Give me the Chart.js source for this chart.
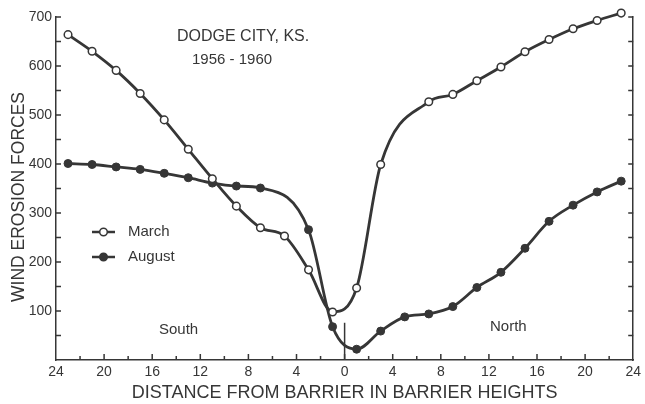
<!DOCTYPE html>
<html>
<head>
<meta charset="utf-8">
<script src="https://cdn.jsdelivr.net/npm/chart.js@4"></script>
<style>
  html, body { margin: 0; padding: 0; background: #fff; }
  #wrap { width: 645px; height: 404px; }
</style>
</head>
<body>
<div id="wrap"><canvas id="erosion-chart" width="645" height="404"></canvas></div>
<script>
// distance from barrier in barrier heights (negative = south side)
const distances = [-23, -21, -19, -17, -15, -13, -11, -9, -7, -5, -3, -1, 1, 3, 5, 7, 9, 11, 13, 15, 17, 19, 21, 23];
const march = [664, 630, 591, 544, 490, 430, 370, 314, 270, 253, 184, 98, 147, 399, null, 527, 542, 570, 598, 629, 654, 676, 693, 708];
const august = [401, 399, 394, 389, 381, 372, 361, 355, 351, null, 266, 68, 22, 59, 88, 94, 109, 148, 179, 228, 283, 316, 343, 365];
const barrier = [{x: 0, y: 0}, {x: 0, y: 76}];
const xTicks = [-24, -20, -16, -12, -8, -4, 0, 4, 8, 12, 16, 20, 24];
const yTicks = [100, 200, 300, 400, 500, 600, 700];

const ink = '#363636';
const fontFamily = '"Liberation Sans", Arial, sans-serif';

function toPoints(values) {
  return distances.map((d, i) => ({x: d, y: values[i]})).filter(p => p.y !== null);
}

// ticks pointing into the plot, legend and notes
const extras = {
  id: 'extras',
  afterDraw(chart) {
    const ctx = chart.ctx;
    const x = chart.scales.x;
    const y = chart.scales.y;
    const area = chart.chartArea;
    ctx.save();
    ctx.strokeStyle = ink;
    ctx.lineWidth = 1.5;
    ctx.beginPath();
    for (let v = -22; v <= 22; v += 2) {
      const px = x.getPixelForValue(v);
      const len = v % 4 === 0 ? 6 : 4;
      ctx.moveTo(px, area.bottom);
      ctx.lineTo(px, area.bottom - len);
    }
    for (let v = 50; v <= 700; v += 50) {
      const py = y.getPixelForValue(v);
      ctx.moveTo(area.left, py);
      ctx.lineTo(area.left + 5, py);
      ctx.moveTo(area.right, py);
      ctx.lineTo(area.right - 5, py);
    }
    ctx.stroke();

    // legend
    const items = [
      {label: 'March', fill: '#fff', y: 232},
      {label: 'August', fill: ink, y: 257}
    ];
    ctx.font = '15px ' + fontFamily;
    ctx.textBaseline = 'middle';
    ctx.textAlign = 'left';
    items.forEach(it => {
      ctx.lineWidth = 2.5;
      ctx.beginPath();
      ctx.moveTo(92, it.y);
      ctx.lineTo(115, it.y);
      ctx.stroke();
      ctx.beginPath();
      ctx.arc(103.5, it.y, 3.8, 0, Math.PI * 2);
      ctx.fillStyle = it.fill;
      ctx.fill();
      ctx.lineWidth = 1.5;
      ctx.stroke();
      ctx.fillStyle = ink;
      ctx.fillText(it.label, 128, it.y);
    });

    ctx.font = '16px ' + fontFamily;
    ctx.fillText('DODGE CITY, KS.', 177, 37);
    ctx.font = '15px ' + fontFamily;
    ctx.fillText('1956 - 1960', 192, 60);
    ctx.fillText('South', 159, 330);
    ctx.fillText('North', 490, 327);

    // y axis title
    ctx.save();
    ctx.translate(19, 197);
    ctx.rotate(-Math.PI / 2);
    ctx.textAlign = 'center';
    ctx.font = '17.5px ' + fontFamily;
    ctx.fillText('WIND EROSION FORCES', 0, 0);
    ctx.restore();
    ctx.restore();
  }
};

const config = {
  type: 'line',
  data: {
    datasets: [
      {
        label: 'March',
        data: toPoints(march),
        borderColor: ink,
        borderWidth: 2.8,
        pointRadius: 3.8,
        pointBorderWidth: 1.5,
        pointBackgroundColor: '#fff',
        pointBorderColor: ink,
        cubicInterpolationMode: 'monotone'
      },
      {
        label: 'August',
        data: toPoints(august),
        borderColor: ink,
        borderWidth: 2.8,
        pointRadius: 4,
        pointBorderWidth: 1,
        pointBackgroundColor: ink,
        pointBorderColor: ink,
        cubicInterpolationMode: 'monotone'
      },
      {
        label: 'barrier',
        data: barrier,
        borderColor: ink,
        borderWidth: 1.5,
        pointRadius: 0
      }
    ]
  },
  options: {
    responsive: false,
    animation: false,
    clip: false,
    layout: {padding: {top: 17, right: 0, left: 0, bottom: 0}},
    plugins: {
      legend: {display: false},
      tooltip: {enabled: false}
    },
    scales: {
      x: {
        type: 'linear',
        min: -24,
        max: 24,
        afterBuildTicks: scale => { scale.ticks = xTicks.map(v => ({value: v})); },
        afterFit: scale => { scale.height = 44; },
        grid: {display: false, drawTicks: false},
        border: {display: true, color: ink, width: 1.5},
        ticks: {
          padding: 4,
          color: ink,
          font: {family: fontFamily, size: 14},
          maxRotation: 0,
          callback: v => Math.abs(v)
        },
        title: {
          display: true,
          text: 'DISTANCE FROM BARRIER IN BARRIER HEIGHTS',
          color: ink,
          font: {family: fontFamily, size: 18},
          padding: {top: 4, bottom: 0}
        }
      },
      y: {
        min: 0,
        max: 700,
        afterBuildTicks: scale => { scale.ticks = yTicks.map(v => ({value: v})); },
        afterFit: scale => { scale.width = 56; },
        grid: {display: false, drawTicks: false},
        border: {display: true, color: ink, width: 1.5},
        ticks: {
          padding: 4,
          color: ink,
          font: {family: fontFamily, size: 14}
        }
      },
      yRight: {
        position: 'right',
        min: 0,
        max: 700,
        afterFit: scale => { scale.width = 7; },
        grid: {display: false, drawTicks: false},
        border: {display: true, color: ink, width: 1.5},
        ticks: {display: false}
      }
    }
  },
  plugins: [extras]
};

const erosionChart = new Chart(document.getElementById('erosion-chart'), config);
</script>
</body>
</html>
